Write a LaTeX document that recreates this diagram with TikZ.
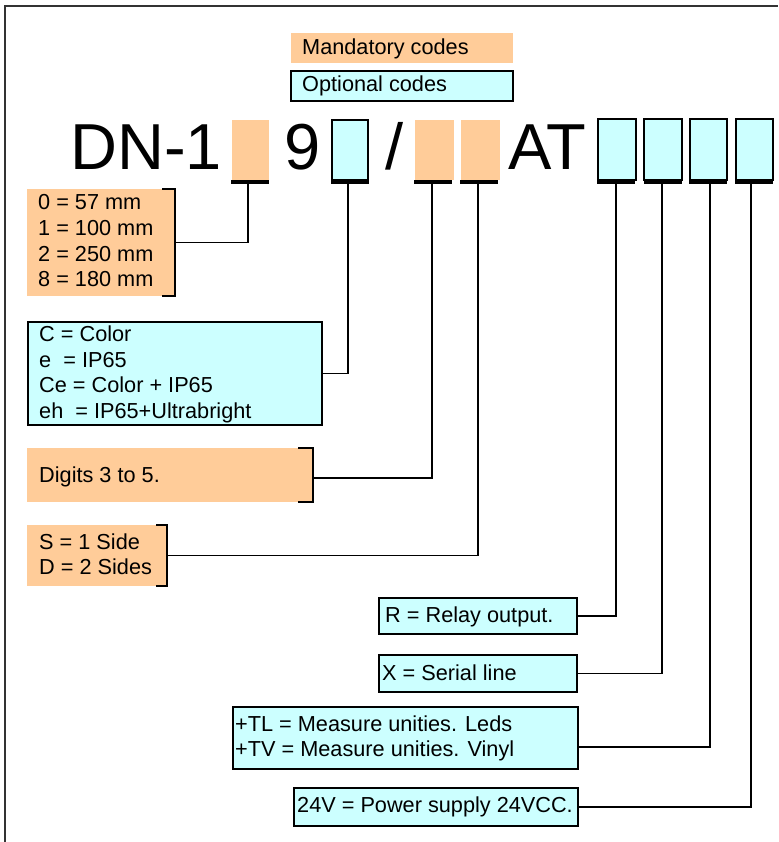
\documentclass[tikz,border=0pt]{standalone}
\usepackage{fontspec}
\setmainfont{Liberation Sans}
\usetikzlibrary{fit}
\definecolor{peach}{HTML}{FFCC99}
\definecolor{aqua}{HTML}{CCFFFF}
\begin{document}
\begin{tikzpicture}[x=1pt,y=-1pt,
  lbl/.style={anchor=base west,inner sep=0,font=\fontsize{21.7}{25}\selectfont},
  bigtxt/.style={anchor=base west,inner sep=0,font=\fontsize{65}{70}\selectfont},
  mand/.style={fill=peach,draw=none,inner sep=0,rectangle},
  opt/.style={fill=aqua,draw=black,line width=1.8pt,inner sep=0,rectangle},
  barbox/.style={fill=black,draw=none,inner sep=0,rectangle},
  conn/.style={line width=1.5pt},
  brk/.style={line width=2pt}]
\useasboundingbox (0,0) rectangle (778,842);
% frame
\draw[line width=2pt,black!80] (4.5,842) -- (4.5,6) -- (778,6);

% legend
\node[mand,fit={(291,33)(513,63)}] (mlg) {};
\node[lbl] (mlgt) at (302,55) {Mandatory codes};
\node[opt,fit={(291,71)(513,101)}] (olg) {};
\node[lbl] (olgt) at (302,92) {Optional codes};

% code line
\node[bigtxt] (dn) at (70,170) {DN-1};
\node[bigtxt] (nine) at (284,170) {9};
\node[bigtxt] (slash) at (385,170) {/};
\node[bigtxt] (at) at (508,170) {AT};

\node[mand,fit={(232,120)(269,180)}] (s1) {};
\node[opt,fit={(332,120)(368,180)}] (s2) {};
\node[mand,fit={(415,120)(454,180)}] (s3) {};
\node[mand,fit={(461,120)(500,180)}] (s4) {};
\node[opt,fit={(598,119)(636,180)}] (s5) {};
\node[opt,fit={(644,119)(682,180)}] (s6) {};
\node[opt,fit={(690,119)(727,180)}] (s7) {};
\node[opt,fit={(736,119)(773,180)}] (s8) {};

\node[barbox,fit={(231,180)(269,184.5)}] (b1) {};
\node[barbox,fit={(331,180)(369,184.5)}] (b2) {};
\node[barbox,fit={(414,180)(452,184.5)}] (b3) {};
\node[barbox,fit={(460,180)(498,184.5)}] (b4) {};
\node[barbox,fit={(597,180)(635,184.5)}] (b5) {};
\node[barbox,fit={(644,180)(682,184.5)}] (b6) {};
\node[barbox,fit={(689,180)(727,184.5)}] (b7) {};
\node[barbox,fit={(735,180)(773,184.5)}] (b8) {};

% description boxes
\node[mand,fit={(27,189)(175,296)}] (d1) {};
\draw[brk] (162,189) -- (175,189) -- (175,296) -- (162,296);
\node[lbl] (d1a) at (38,210) {0 = 57 mm};
\node[lbl] (d1b) at (38,235.5) {1 = 100 mm};
\node[lbl] (d1c) at (38,261) {2 = 250 mm};
\node[lbl] (d1d) at (38,286.5) {8 = 180 mm};

\node[opt,fit={(28,322)(322,425)}] (d2) {};
\node[lbl] (d2a) at (39,341) {C = Color};
\node[lbl] (d2b) at (39,367) {e\ \ = IP65};
\node[lbl] (d2c) at (39,392.5) {Ce = Color + IP65};
\node[lbl] (d2d) at (39,418) {eh\ \ = IP65+Ultrabright};

\node[mand,fit={(27,448)(313,502)}] (d3) {};
\draw[brk] (298,448) -- (313,448) -- (313,502) -- (298,502);
\node[lbl] (d3a) at (39,482) {Digits 3 to 5.};

\node[mand,fit={(27,525)(167,586)}] (d4) {};
\draw[brk] (156,525) -- (167,525) -- (167,586) -- (156,586);
\node[lbl] (d4a) at (39,549) {S = 1 Side};
\node[lbl] (d4b) at (39,574) {D = 2 Sides};

\node[opt,fit={(379,598)(577,634)}] (d5) {};
\node[lbl] (d5a) at (385,622) {R = Relay output.};

\node[opt,fit={(379,655)(577,692)}] (d6) {};
\node[lbl] (d6a) at (382,680) {X = Serial line};

\node[opt,fit={(233,707)(578,769)}] (d7) {};
\node[lbl] (d7a) at (235,731) {+TL = Measure unities. Leds};
\node[lbl] (d7b) at (235,756) {+TV = Measure unities. Vinyl};

\node[opt,fit={(294,788)(578,826)}] (d8) {};
\node[lbl] (d8a) at (297,812) {24V = Power supply 24VCC.};

% connectors
\coordinate (p1) at (248,184);
\coordinate (p2) at (348,184);
\coordinate (p3) at (432,184);
\coordinate (p4) at (478,184);
\coordinate (p5) at (616,184);
\coordinate (p6) at (662,184);
\coordinate (p7) at (710,184);
\coordinate (p8) at (751,184);
\coordinate (j3) at (313,478);
\coordinate (j7) at (578,747);

\draw[conn] (p1) |- (d1.east);
\draw[conn] (p2) |- (d2.east);
\draw[conn] (p3) |- (j3);
\draw[conn] (p4) |- (d4.east);
\draw[conn] (p5) |- (d5.east);
\draw[conn] (p6) |- (d6.east);
\draw[conn] (p7) |- (j7);
\draw[conn] (p8) |- (d8.east);
\end{tikzpicture}
\end{document}
